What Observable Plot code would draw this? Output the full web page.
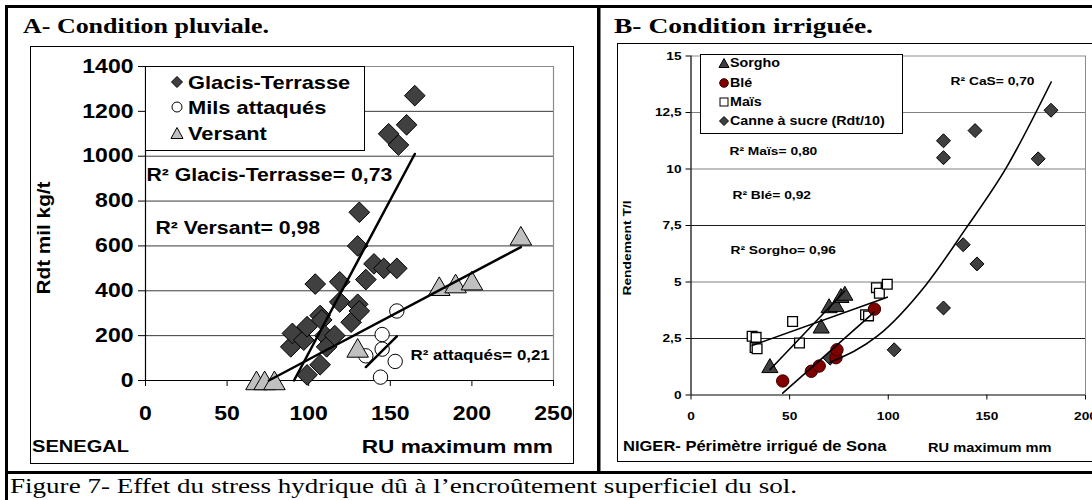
<!DOCTYPE html>
<html><head><meta charset="utf-8">
<script src="https://cdn.jsdelivr.net/npm/d3@7"></script>
<script src="https://cdn.jsdelivr.net/npm/@observablehq/plot@0.6"></script>
<style>
html,body{margin:0;padding:0;background:#fff;overflow:hidden;}
#root{position:relative;width:1092px;height:500px;overflow:hidden;background:#fff;}
.abs{position:absolute;}
.box{position:absolute;border:1px solid #000;box-sizing:border-box;pointer-events:none;}
</style></head>
<body><div id="root"></div>
<script>
// ---------- DATA ----------
// Panel A – Sénégal (condition pluviale)
const xTicksA = [0, 50, 100, 150, 200, 250];
const yTicksA = [0, 200, 400, 600, 800, 1000, 1200, 1400];
const glacisRU  = [89, 90, 97, 99, 99, 104, 107, 107, 108, 110, 111, 116, 119, 119, 126, 130, 131, 130, 131, 135, 140, 146, 154, 149, 155, 160, 165];
const glacisRdt = [150, 210, 180, 240, 25, 430, 290, 70, 270, 200, 150, 200, 440, 350, 260, 340, 310, 600, 750, 450, 520, 500, 500, 1100, 1050, 1140, 1270];
const milsRU  = [135, 144, 145, 145, 153, 154];
const milsRdt = [110, 15, 140, 205, 85, 310];
const versantRU  = [68, 73, 79, 130, 180, 190, 200, 230];
const versantRdt = [0, 0, 0, 145, 420, 432, 445, 645];
const trendGlacisRU = [91, 165],   trendGlacisRdt = [0, 1010];
const trendVersantRU = [75.6, 230], trendVersantRdt = [0, 595];
const trendMilsRU = [135, 154],    trendMilsRdt = [60, 197];
const r2LabelsA = ["R² Glacis-Terrasse= 0,73", "R² Versant= 0,98", "R² attaqués= 0,21"];

// Panel B – Niger (condition irriguée)
const xTicksB = [0, 50, 100, 150, 200];
const yTicksB = [0, 2.5, 5, 7.5, 10, 12.5, 15];
const yTickLabelsB = ["0", "2,5", "5", "7,5", "10", "12,5", "15"];
const sorghoRU  = [40, 66, 70, 73.5, 76, 78];
const sorghoRdt = [1.3, 3.05, 3.95, 4.0, 4.4, 4.5];
const bleRU  = [46.5, 61, 65, 73.5, 74, 93];
const bleRdt = [0.62, 1.05, 1.28, 1.65, 2.0, 3.8];
const maisRU  = [31, 33, 32.5, 33.5, 51.5, 55, 88.5, 90, 94, 95.5, 99.5];
const maisRdt = [2.6, 2.55, 2.1, 2.05, 3.25, 2.3, 3.55, 3.5, 4.75, 4.5, 4.9];
const canneRU  = [70.5, 103, 128, 138, 145, 128, 128, 144, 176, 182.5];
const canneRdt = [1.63, 2.0, 3.85, 6.65, 5.8, 10.5, 11.25, 11.7, 10.45, 12.6];
const trendSorghoRU = [40, 78],    trendSorghoRdt = [1.12, 4.6];
const trendBleRU = [46.5, 93],     trendBleRdt = [0.08, 3.68];
const trendMaisRU = [31, 99.5],    trendMaisRdt = [2.19, 4.33];
const trendCaSRU  = [70.5, 94.4, 118.9, 139.2, 159.8, 182.6];
const trendCaSRdt = [1.45, 2.6, 4.85, 7.35, 10.05, 13.85];
const r2LabelsB = ["R² Maïs= 0,80", "R² Blé= 0,92", "R² Sorgho= 0,96", "R² CaS= 0,70"];

// ---------- RENDER ----------
const SANS = "'Liberation Sans', Arial, sans-serif";
const SERIF = "'Liberation Serif', 'Times New Roman', serif";
const K = 1.18; // horizontal stretch of the reference's text
const root = document.getElementById("root");

function stretch(node, k) {
  node.querySelectorAll("text").forEach(t => {
    if (t.hasAttribute("textLength")) return;
    const w = t.getComputedTextLength();
    if (w > 0) { t.setAttribute("textLength", (w * k).toFixed(1)); t.setAttribute("lengthAdjust", "spacingAndGlyphs"); }
  });
}
function place(node, left, top) {
  const d = document.createElement("div");
  d.className = "abs"; d.style.left = left + "px"; d.style.top = top + "px";
  d.appendChild(node); root.appendChild(d); return d;
}

const plotA = Plot.plot({
  width: 542, height: 416,
  marginLeft: 114, marginRight: 20, marginTop: 19, marginBottom: 83,
  style: {fontFamily: SANS, fontWeight: "bold", fontSize: "19.5px", color: "#000", background: "white", overflow: "visible"},
  x: {domain: [0, 250], ticks: xTicksA, tickSize: 6, tickPadding: 20, label: null, tickFormat: d => String(d)},
  y: {domain: [0, 1400], ticks: yTicksA, tickSize: 7, tickPadding: 5, label: null, tickFormat: d => String(d)},
  marks: [
    Plot.ruleY(yTicksA.filter(v => v > 0 && v < 1400), {stroke: "#3a3a3a", strokeWidth: 1}),
    Plot.ruleY([1400], {stroke: "#8c8c8c", strokeWidth: 1.2}),
    Plot.ruleX([250], {stroke: "#8c8c8c", strokeWidth: 1.2}),
    Plot.ruleY([0], {stroke: "#000", strokeWidth: 1.2}),
    Plot.ruleX([0], {stroke: "#000", strokeWidth: 1.2}),
    Plot.dot(glacisRdt, {x: glacisRU, y: glacisRdt, symbol: "diamond2", r: 9.3, fill: "#404040", stroke: "#000", strokeWidth: 1}),
    Plot.dot(milsRdt, {x: milsRU, y: milsRdt, symbol: "circle", r: 7.2, fill: "#fff", stroke: "#000", strokeWidth: 1}),
    Plot.dot(versantRdt, {x: versantRU, y: versantRdt, symbol: "triangle", r: 8, dy: 3, fill: "#c0c0c0", stroke: "#000", strokeWidth: 1}),
    Plot.line(trendGlacisRdt, {x: trendGlacisRU, y: trendGlacisRdt, stroke: "#000", strokeWidth: 2.5}),
    Plot.line(trendVersantRdt, {x: trendVersantRU, y: trendVersantRdt, stroke: "#000", strokeWidth: 2.5}),
    Plot.line(trendMilsRdt, {x: trendMilsRU, y: trendMilsRdt, stroke: "#000", strokeWidth: 2.5}),
    Plot.text([r2LabelsA[0]], {x: () => 0.6, y: () => 914, textAnchor: "start", fontSize: 18, fontWeight: "bold", fill: "#000"}),
    Plot.text([r2LabelsA[1]], {x: () => 6.1, y: () => 678, textAnchor: "start", fontSize: 18, fontWeight: "bold", fill: "#000"}),
    Plot.text([r2LabelsA[2]], {x: () => 162.4, y: () => 112, textAnchor: "start", fontSize: 14.3, fontWeight: "bold", fill: "#000"})
  ]
});
place(plotA, 31, 47);
stretch(plotA, K);

const plotB = Plot.plot({
  width: 474, height: 417,
  marginLeft: 72.5, marginRight: 7, marginTop: 11.5, marginBottom: 66.5,
  style: {fontFamily: SANS, fontWeight: "bold", fontSize: "11.6px", color: "#000", background: "white", overflow: "visible"},
  x: {domain: [0, 200], ticks: xTicksB, tickSize: 5, tickPadding: 11.5, label: null, tickFormat: d => String(d)},
  y: {domain: [0, 15], ticks: yTicksB, tickSize: 5, tickPadding: 4.5, label: null, tickFormat: d => yTickLabelsB[yTicksB.indexOf(d)]},
  marks: [
    Plot.ruleY([5, 10, 12.5], {stroke: "#808080", strokeWidth: 1}),
    Plot.ruleY([2.5, 7.5], {stroke: "#1a1a1a", strokeWidth: 1}),
    Plot.ruleY([15], {stroke: "#8c8c8c", strokeWidth: 1}),
    Plot.ruleX([200], {stroke: "#8c8c8c", strokeWidth: 1}),
    Plot.ruleY([0], {stroke: "#000", strokeWidth: 1.2}),
    Plot.ruleX([0], {stroke: "#000", strokeWidth: 1.2}),
    Plot.dot(canneRdt, {x: canneRU, y: canneRdt, symbol: "diamond2", r: 6.3, fill: "#404040", stroke: "#000", strokeWidth: 1}),
    Plot.dot(maisRdt, {x: maisRU, y: maisRdt, symbol: "square", r: 5.5, fill: "#fff", stroke: "#000", strokeWidth: 1.3}),
    Plot.dot(sorghoRdt, {x: sorghoRU, y: sorghoRdt, symbol: "triangle", r: 6, dy: 2.3, fill: "#404040", stroke: "#000", strokeWidth: 1}),
    Plot.dot(bleRdt, {x: bleRU, y: bleRdt, symbol: "circle", r: 6.2, fill: "#800000", stroke: "#3a0000", strokeWidth: 1}),
    Plot.line(trendMaisRdt, {x: trendMaisRU, y: trendMaisRdt, stroke: "#000", strokeWidth: 1.6}),
    Plot.line(trendSorghoRdt, {x: trendSorghoRU, y: trendSorghoRdt, stroke: "#000", strokeWidth: 1.6}),
    Plot.line(trendBleRdt, {x: trendBleRU, y: trendBleRdt, stroke: "#000", strokeWidth: 1.6}),
    Plot.line(trendCaSRdt, {x: trendCaSRU, y: trendCaSRdt, curve: "monotone-x", stroke: "#000", strokeWidth: 1.6}),
    Plot.text([r2LabelsB[0]], {x: () => 19.5, y: () => 10.77, textAnchor: "start", fontSize: 11.7, fontWeight: "bold", fill: "#000"}),
    Plot.text([r2LabelsB[1]], {x: () => 21.0, y: () => 8.83, textAnchor: "start", fontSize: 11.7, fontWeight: "bold", fill: "#000"}),
    Plot.text([r2LabelsB[2]], {x: () => 20.0, y: () => 6.39, textAnchor: "start", fontSize: 11.7, fontWeight: "bold", fill: "#000"}),
    Plot.text([r2LabelsB[3]], {x: () => 131.6, y: () => 13.87, textAnchor: "start", fontSize: 11.7, fontWeight: "bold", fill: "#000"})
  ]
});
place(plotB, 618, 44);
stretch(plotB, K);

// inner chart boxes
function box(l, t, w, h) { const d = document.createElement("div"); d.className = "box";
  Object.assign(d.style, {left: l + "px", top: t + "px", width: w + "px", height: h + "px"}); root.appendChild(d); }
box(30, 46, 544, 418);
box(617, 43, 520, 419);

// overlay: frame, titles, caption, legends, panel labels
const ns = "http://www.w3.org/2000/svg";
const ov = document.createElementNS(ns, "svg");
ov.setAttribute("width", 1092); ov.setAttribute("height", 500);
ov.style.position = "absolute"; ov.style.left = "0"; ov.style.top = "0"; ov.style.pointerEvents = "none";
ov.innerHTML = `
  <rect x="5" y="5" width="1092" height="3" fill="#000"/>
  <rect x="5" y="5" width="3" height="495" fill="#000"/>
  <rect x="597" y="5" width="3.5" height="468" fill="#000"/>
  <rect x="5" y="471" width="1092" height="3" fill="#000"/>
  <text x="23" y="33" font-family="${SERIF}" font-weight="bold" font-size="21" textLength="246" lengthAdjust="spacingAndGlyphs">A- Condition pluviale.</text>
  <text x="614" y="33" font-family="${SERIF}" font-weight="bold" font-size="21" textLength="259" lengthAdjust="spacingAndGlyphs">B- Condition irriguée.</text>
  <text x="10" y="493" font-family="${SERIF}" font-size="21" textLength="787" lengthAdjust="spacingAndGlyphs">Figure 7- Effet du stress hydrique dû à l’encroûtement superficiel du sol.</text>

  <rect x="145.5" y="66.5" width="219" height="84" fill="#fff" stroke="#000" stroke-width="1"/>
  <polygon points="177,76.5 182.5,82 177,87.5 171.5,82" fill="#404040" stroke="#000"/>
  <circle cx="177" cy="107" r="5" fill="#fff" stroke="#000"/>
  <polygon points="177,127.5 183,138.5 171,138.5" fill="#c0c0c0" stroke="#000"/>
  <g font-family="${SANS}" font-weight="bold" font-size="18.5">
    <text x="188" y="88.6">Glacis-Terrasse</text>
    <text x="188" y="113.6">Mils attaqués</text>
    <text x="188" y="139.6">Versant</text>
  </g>

  <rect x="700.5" y="54.5" width="202" height="79" fill="#fff" stroke="#000" stroke-width="1"/>
  <polygon points="724,58.5 729,67.5 719,67.5" fill="#404040" stroke="#000"/>
  <circle cx="724" cy="83" r="4.3" fill="#800000" stroke="#3a0000"/>
  <rect x="720" y="98" width="8" height="8" fill="#fff" stroke="#000"/>
  <polygon points="724,116.5 728.5,121 724,125.5 719.5,121" fill="#404040" stroke="#000"/>
  <g font-family="${SANS}" font-weight="bold" font-size="12.1">
    <text x="730" y="67.4">Sorgho</text>
    <text x="730" y="87.4">Blé</text>
    <text x="730" y="106.4">Maïs</text>
    <text x="730" y="125.4">Canne à sucre (Rdt/10)</text>
  </g>

  <g font-family="${SANS}" font-weight="bold">
    <text x="32" y="452" font-size="17">SENEGAL</text>
    <text x="553" y="453" font-size="19.2" text-anchor="end">RU maximum mm</text>
    <text transform="translate(50.3,238) rotate(-90)" font-size="17.6" text-anchor="middle">Rdt mil kg/t</text>
    <text x="623" y="451" font-size="14">NIGER- Périmètre irrigué de Sona</text>
    <text x="928" y="451.5" font-size="12.4">RU maximum mm</text>
    <text transform="translate(631.2,248) rotate(-90)" font-size="11.7" text-anchor="middle">Rendement T/l</text>
  </g>`;
root.appendChild(ov);
stretch(ov, K);
</script>
</body></html>
